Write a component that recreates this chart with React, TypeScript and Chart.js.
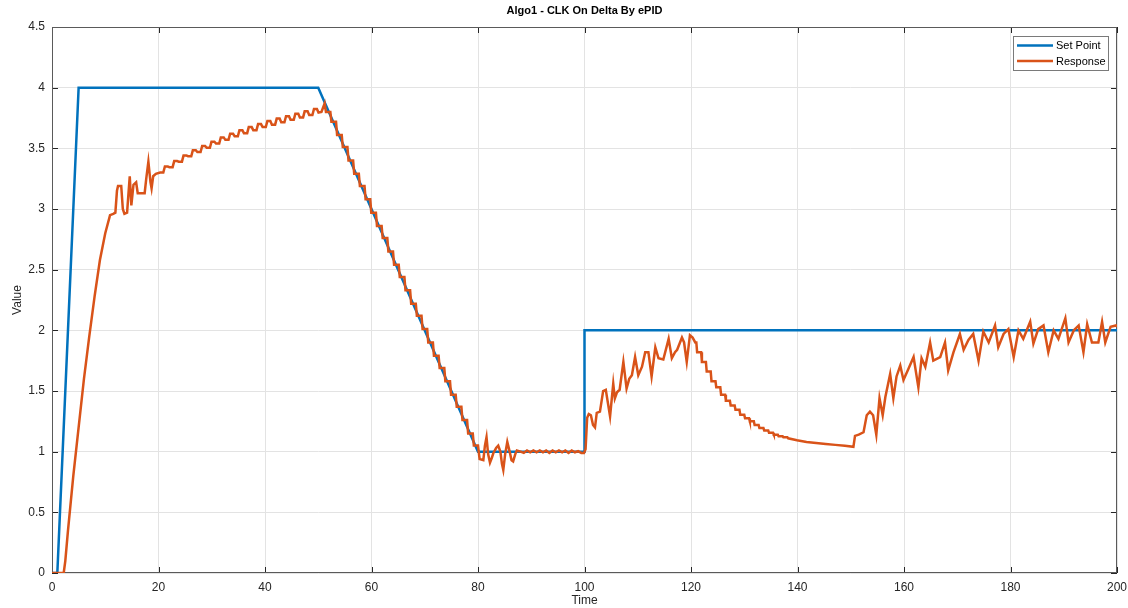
import React, { useEffect, useRef } from "react";
import { Chart, registerables } from "chart.js";
Chart.register(...registerables);

const TITLE = "Algo1 - CLK On Delta By ePID";
const X_LABEL = "Time";
const Y_LABEL = "Value";
const SERIES_NAMES = ["Set Point", "Response"];
const SERIES_COLORS = ["#0072BD", "#D95319"];

const xTicks = [0, 20, 40, 60, 80, 100, 120, 140, 160, 180, 200];
const yTicks = [0, 0.5, 1, 1.5, 2, 2.5, 3, 3.5, 4, 4.5];

const setTime = [0, 1, 5, 50, 80, 100, 100, 200];
const setValue = [0, 0, 4, 4, 1, 1, 2, 2];

const respTime = [
  0, 2.2, 2.5, 3, 4, 5, 6, 7, 8, 9, 10, 10.9,
  11.5, 11.9, 12.2, 12.4, 13.0, 13.3, 13.6, 14.1, 14.6, 14.9, 15.3, 15.8, 16.1, 17.4, 17.7, 18.1, 18.5, 18.7, 19.0, 19.5,
  20.3, 20.9, 21.2, 21.75,
  22.05, 22.65, 22.95, 23.5,
  23.8, 24.4, 24.7, 25.25,
  25.55, 26.15, 26.45, 27.0,
  27.3, 27.9, 28.2, 28.75,
  29.05, 29.65, 29.95, 30.5,
  30.8, 31.4, 31.7, 32.25,
  32.55, 33.15, 33.45, 34.0,
  34.3, 34.9, 35.2, 35.75,
  36.05, 36.65, 36.95, 37.5,
  37.8, 38.4, 38.7, 39.25,
  39.55, 40.15, 40.45, 41.0,
  41.3, 41.9, 42.2, 42.75,
  43.05, 43.65, 43.95, 44.5,
  44.8, 45.4, 45.7, 46.25,
  46.55, 47.15, 47.45, 48.0,
  48.3, 48.9, 49.2, 49.75,
  50.05, 50.6, 51.2,
  51.45, 52.27, 52.47, 53.34, 53.54, 54.41, 54.61, 55.48, 55.68, 56.55, 56.75, 57.62, 57.82,
  58.69, 58.89, 59.76, 59.96, 60.83, 61.03, 61.9, 62.1, 62.97, 63.17, 64.04, 64.24, 65.11, 65.31,
  66.18, 66.38, 67.25, 67.45, 68.32, 68.52, 69.39, 69.59, 70.46, 70.66, 71.53, 71.73, 72.6, 72.8,
  73.67, 73.87, 74.74, 74.94, 75.81, 76.01, 76.88, 77.08, 77.95, 78.15, 79.02, 79.22, 80.0,
  80.3, 81.0, 81.3, 81.6, 81.9, 82.25, 82.6, 82.9, 83.4, 83.8, 84.2, 84.5, 84.75, 85.1, 85.5, 86.0, 86.3, 86.6, 87.0, 87.3,
  88.0, 88.6, 89.2, 89.8, 90.4, 91.0, 91.6, 92.2, 92.8, 93.4, 94.0, 94.6, 95.2, 95.8, 96.4, 97.0, 97.6, 98.2, 98.8, 99.4, 99.9,
  100.2, 100.5, 100.8, 101.2, 101.6, 101.97, 102.3, 102.9, 103.5, 104.0, 104.4, 104.8, 105.4, 105.7, 106.1, 106.6,
  107.3, 107.9, 108.4, 108.9, 109.5, 110.1, 110.8, 111.4, 112.0, 112.6, 113.3, 113.9, 114.8, 115.8, 116.4, 117.0,
  117.4, 118.3, 118.7, 119.2, 119.8, 120.3, 120.8,
  121.0, 121.15, 121.9, 122.05, 122.8, 122.95, 123.7, 123.85, 124.6, 124.75, 125.5, 125.65, 126.4, 126.55,
  127.3, 127.45, 128.2, 128.35, 129.1, 129.25, 130.0, 130.15, 130.9, 131.05, 131.8, 131.95, 132.7, 132.85,
  133.6, 133.75, 134.5, 134.65, 135.4, 135.55, 136.3, 136.45, 137.2, 137.35, 138.1, 138.25,
  139.9, 141.7, 143.5, 145.3, 147.1, 148.9, 150.5,
  150.8, 151.5, 152.4, 153.0, 153.6, 154.2, 154.8, 155.4, 156.0, 156.5, 157.4, 158.0, 158.6, 159.3, 159.9,
  160.8, 161.8, 162.7, 163.3, 164.0, 164.9, 165.5, 166.8, 167.7, 168.3, 169.3, 170.5, 171.2, 172.1, 173.0,
  174.0, 174.9, 175.9, 177.1, 177.7, 178.7, 179.6, 180.6, 181.5, 182.4, 183.7, 184.3, 185.2, 186.2, 187.1,
  188.1, 189.0, 190.3, 190.9, 191.9, 192.8, 193.7, 194.4, 195.3, 196.5, 197.2, 197.8, 198.8, 199.8, 200
];

const respValue = [
  0, 0, 0.1, 0.35, 0.8, 1.2, 1.6, 1.95, 2.28, 2.58, 2.8, 2.95,
  2.96, 2.97, 3.15, 3.19, 3.19, 3.0, 2.96, 2.97, 3.27, 3.03, 3.2, 3.22, 3.13, 3.13, 3.25, 3.39, 3.22, 3.17, 3.27, 3.29,
  3.30, 3.30, 3.35, 3.35,
  3.345, 3.345, 3.395, 3.395,
  3.39, 3.39, 3.44, 3.44,
  3.435, 3.435, 3.485, 3.485,
  3.47, 3.47, 3.52, 3.52,
  3.505, 3.505, 3.555, 3.555,
  3.54, 3.54, 3.59, 3.59,
  3.57, 3.57, 3.62, 3.62,
  3.60, 3.60, 3.65, 3.65,
  3.625, 3.625, 3.675, 3.675,
  3.65, 3.65, 3.70, 3.70,
  3.675, 3.675, 3.725, 3.725,
  3.695, 3.695, 3.745, 3.745,
  3.715, 3.715, 3.765, 3.765,
  3.735, 3.735, 3.785, 3.785,
  3.755, 3.755, 3.805, 3.805,
  3.775, 3.775, 3.825, 3.825,
  3.795, 3.80, 3.87,
  3.80, 3.80, 3.72, 3.72, 3.61, 3.61, 3.51, 3.51, 3.40, 3.40, 3.29, 3.29,
  3.19, 3.19, 3.08, 3.08, 2.97, 2.97, 2.86, 2.86, 2.76, 2.76, 2.65, 2.65, 2.54, 2.54,
  2.44, 2.44, 2.33, 2.33, 2.22, 2.22, 2.12, 2.12, 2.01, 2.01, 1.90, 1.90, 1.79, 1.79,
  1.69, 1.69, 1.58, 1.58, 1.47, 1.47, 1.37, 1.37, 1.26, 1.26, 1.15, 1.15, 1.05, 1.05,
  0.94, 0.93, 1.05, 1.12, 0.98, 0.91, 0.95, 0.99, 1.03, 1.05, 1.0, 0.9, 0.85, 0.98, 1.08, 0.99, 0.93, 0.92, 0.98, 1.01,
  1.0, 0.99, 1.01, 0.995, 1.01, 0.995, 1.01, 0.995, 1.01, 0.99, 1.01, 0.995, 1.01, 0.995, 1.01, 0.99, 1.01, 0.995, 1.005, 0.99, 0.99,
  1.02, 1.28, 1.31, 1.30, 1.22, 1.20, 1.32, 1.33, 1.50, 1.51, 1.40, 1.29, 1.56, 1.44, 1.49, 1.51,
  1.74, 1.52, 1.60, 1.63, 1.78, 1.63, 1.70, 1.82, 1.82, 1.62, 1.86, 1.77, 1.76, 1.93, 1.77, 1.82,
  1.84, 1.94, 1.90, 1.74, 1.96, 1.94, 1.90,
  1.90, 1.82, 1.82, 1.74, 1.74, 1.66, 1.66, 1.58, 1.58, 1.53, 1.53, 1.47, 1.47, 1.42,
  1.42, 1.38, 1.38, 1.345, 1.345, 1.305, 1.305, 1.275, 1.275, 1.25, 1.25, 1.22, 1.22, 1.195,
  1.195, 1.175, 1.175, 1.155, 1.155, 1.14, 1.14, 1.127, 1.127, 1.118, 1.118, 1.11,
  1.094, 1.08, 1.072, 1.064, 1.056, 1.048, 1.04,
  1.13, 1.14, 1.16, 1.30, 1.33, 1.30, 1.14, 1.44, 1.30, 1.45, 1.64, 1.44, 1.62, 1.71, 1.59,
  1.68, 1.78, 1.53, 1.77, 1.70, 1.90, 1.75, 1.78, 1.90, 1.67, 1.82, 1.97, 1.84, 1.92, 1.97,
  1.75, 1.99, 1.90, 2.04, 1.86, 1.97, 2.01, 1.78, 2.0, 1.93, 2.07, 1.89, 2.01, 2.04, 1.82,
  2.0, 1.93, 2.10, 1.90, 2.0, 2.04, 1.82, 2.05, 1.90, 1.90, 2.07, 1.90, 2.03, 2.04, 2.03
];

const FONT = "'Liberation Sans', Arial, Helvetica, sans-serif";
const AXIS_COLOR = "#262626";

const matlabPlugin = {
  id: "matlabDecor",
  beforeDatasetsDraw(chart: any) {
    const { ctx, chartArea: a, scales } = chart;
    ctx.save();
    ctx.strokeStyle = AXIS_COLOR;
    ctx.lineWidth = 1;
    ctx.beginPath();
    for (const v of xTicks) {
      const px = Math.round(scales.x.getPixelForValue(v)) + 0.5;
      ctx.moveTo(px, a.bottom);
      ctx.lineTo(px, a.bottom - 6);
      ctx.moveTo(px, a.top);
      ctx.lineTo(px, a.top + 6);
    }
    for (const v of yTicks) {
      const py = Math.round(scales.y.getPixelForValue(v)) + 0.5;
      ctx.moveTo(a.left, py);
      ctx.lineTo(a.left + 6, py);
      ctx.moveTo(a.right, py);
      ctx.lineTo(a.right - 6, py);
    }
    ctx.stroke();
    ctx.strokeStyle = "#5a5a5a";
    ctx.strokeRect(Math.round(a.left) + 0.5, Math.round(a.top) + 0.5, Math.round(a.width) - 1, Math.round(a.height) - 1);
    ctx.restore();
  },
  afterDraw(chart: any) {
    const { ctx, chartArea: a } = chart;
    ctx.save();
    ctx.fillStyle = "#000";
    ctx.font = `bold 11px ${FONT}`;
    ctx.textAlign = "center";
    ctx.textBaseline = "middle";
    ctx.fillText(TITLE, (a.left + a.right) / 2, 11);
    ctx.fillStyle = AXIS_COLOR;
    ctx.font = `12px ${FONT}`;
    ctx.fillText(X_LABEL, (a.left + a.right) / 2, 601);
    ctx.save();
    ctx.translate(18, (a.top + a.bottom) / 2);
    ctx.rotate(-Math.PI / 2);
    ctx.fillText(Y_LABEL, 0, 0);
    ctx.restore();
    const lx = 1013, ly = 36, lw = 95, lh = 34;
    ctx.fillStyle = "#fff";
    ctx.fillRect(lx, ly, lw, lh);
    ctx.strokeStyle = "#7a7a7a";
    ctx.lineWidth = 1;
    ctx.strokeRect(lx + 0.5, ly + 0.5, lw, lh);
    ctx.font = `11px ${FONT}`;
    ctx.textAlign = "left";
    SERIES_NAMES.forEach((name, i) => {
      const y = ly + 9.5 + i * 15.5;
      ctx.strokeStyle = SERIES_COLORS[i];
      ctx.lineWidth = 2.5;
      ctx.beginPath();
      ctx.moveTo(lx + 4, y);
      ctx.lineTo(lx + 40, y);
      ctx.stroke();
      ctx.fillStyle = "#000";
      ctx.fillText(name, lx + 43, y + 0.5);
    });
    ctx.restore();
  },
};

export default function App() {
  const ref = useRef<HTMLCanvasElement | null>(null);
  useEffect(() => {
    if (!ref.current) return;
    const chart = new Chart(ref.current, {
      type: "line",
      data: {
        datasets: [
          {
            label: SERIES_NAMES[0],
            data: setTime.map((x, i) => ({ x, y: setValue[i] })),
            borderColor: SERIES_COLORS[0],
            borderWidth: 2.5,
            pointRadius: 0,
            tension: 0,
            fill: false,
            order: 1,
          },
          {
            label: SERIES_NAMES[1],
            data: respTime.map((x, i) => ({ x, y: respValue[i] })),
            borderColor: SERIES_COLORS[1],
            borderWidth: 2.5,
            pointRadius: 0,
            tension: 0,
            fill: false,
            order: 0,
          },
        ],
      },
      options: {
        responsive: false,
        animation: false,
        events: [],
        layout: { padding: { top: 27, right: 0, left: 0, bottom: 0 } },
        plugins: {
          legend: { display: false },
          title: { display: false },
          tooltip: { enabled: false },
        },
        scales: {
          x: {
            type: "linear",
            min: 0,
            max: 200,
            afterFit: (s: any) => { s.height = 35; s.paddingRight = 11; },
            afterBuildTicks: (s: any) => { s.ticks = xTicks.map((v) => ({ value: v })); },
            grid: { color: "#e3e3e3", drawTicks: false, lineWidth: 1 },
            border: { display: false },
            ticks: {
              color: AXIS_COLOR,
              font: { family: FONT, size: 12 },
              padding: 7,
              maxRotation: 0,
              autoSkip: false,
            },
          },
          y: {
            type: "linear",
            min: 0,
            max: 4.5,
            afterFit: (s: any) => { s.width = 52; },
            afterBuildTicks: (s: any) => { s.ticks = yTicks.map((v) => ({ value: v })); },
            grid: { color: "#e3e3e3", drawTicks: false, lineWidth: 1 },
            border: { display: false },
            ticks: {
              color: AXIS_COLOR,
              font: { family: FONT, size: 12 },
              padding: 7,
              autoSkip: false,
              callback: (v: any) => String(v),
            },
          },
        },
      },
      plugins: [matlabPlugin],
    });
    return () => chart.destroy();
  }, []);
  return (
    <div style={{ position: "fixed", left: 0, top: 0, width: 1128, height: 608, background: "#fff" }}>
      <canvas ref={ref} width={1128} height={608} style={{ display: "block" }} />
    </div>
  );
}
